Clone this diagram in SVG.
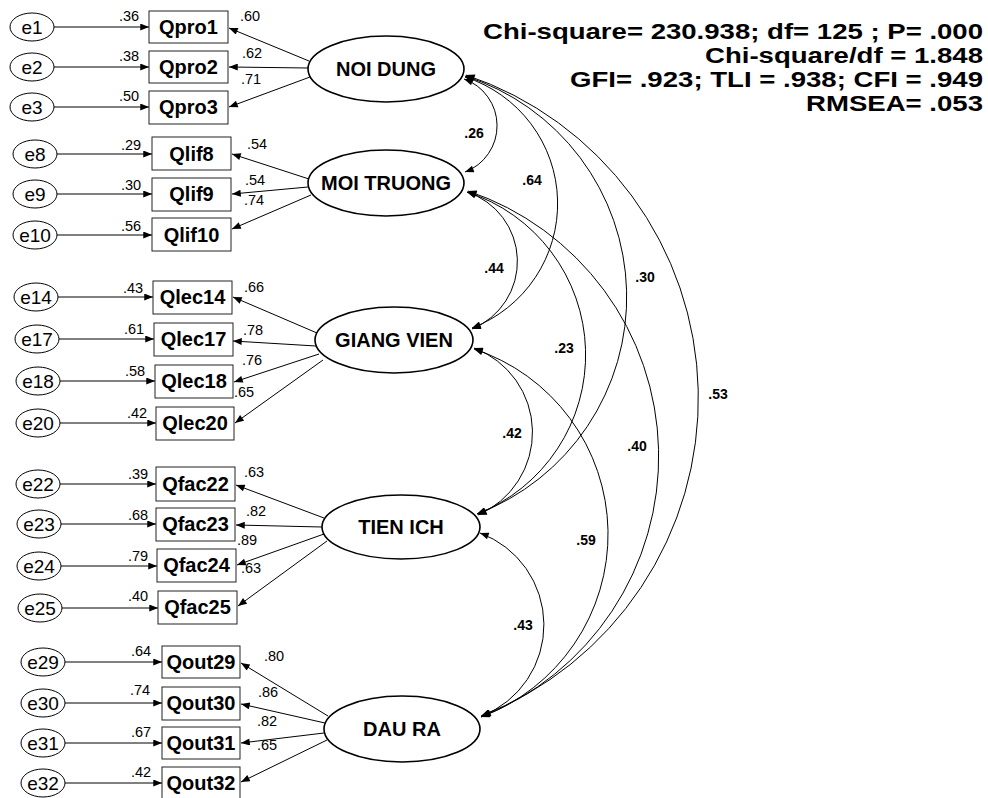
<svg xmlns="http://www.w3.org/2000/svg" width="988" height="798" viewBox="0 0 988 798">
<defs>
<marker id="ah" viewBox="0 0 10 8" refX="10" refY="4" markerWidth="10" markerHeight="7" markerUnits="userSpaceOnUse" orient="auto-start-reverse"><path d="M0,0 L10,4 L0,8 z" fill="#000"/></marker>
<style>
text{font-family:"Liberation Sans",Arial,sans-serif;fill:#000}
.lat{font-size:20px;font-weight:bold;text-anchor:middle}
.box{font-size:20px;font-weight:bold;text-anchor:middle}
.err{font-size:19px;text-anchor:middle}
.ld{font-size:14.5px;text-anchor:middle}
.cv{font-size:14px;font-weight:bold;text-anchor:middle}
.stat{font-size:22px;font-weight:bold}
.eo{fill:#fff;stroke:#000;stroke-width:1}
.lo{fill:#fff;stroke:#000;stroke-width:1.6}
.rb{fill:#fff;stroke:#222;stroke-width:1}
.c line,.c path{stroke:#000;stroke-width:1;fill:none;marker-end:url(#ah)}
.c path{marker-start:url(#ah)}
</style>
</defs>
<rect width="988" height="798" fill="#fff"/>

<g class="c" id="connectors">
<!-- error arrows -->
<line x1="54" y1="27" x2="149" y2="27"/>
<line x1="54" y1="67" x2="149" y2="67"/>
<line x1="54" y1="107" x2="149" y2="107"/>
<line x1="57" y1="154" x2="152" y2="154"/>
<line x1="57" y1="194" x2="152" y2="194"/>
<line x1="57" y1="235" x2="152" y2="235"/>
<line x1="58" y1="297" x2="153" y2="297"/>
<line x1="59" y1="339" x2="154" y2="339"/>
<line x1="60" y1="381" x2="155" y2="381"/>
<line x1="60" y1="423" x2="156" y2="423"/>
<line x1="60" y1="484" x2="156" y2="484"/>
<line x1="61" y1="524" x2="156" y2="524"/>
<line x1="61" y1="566" x2="157" y2="566"/>
<line x1="62" y1="608" x2="158" y2="608"/>
<line x1="65" y1="662" x2="162" y2="662"/>
<line x1="65" y1="703" x2="162" y2="703"/>
<line x1="65" y1="743" x2="162" y2="743"/>
<line x1="65" y1="783" x2="162" y2="783"/>
<!-- loadings -->
<line x1="309" y1="61" x2="229" y2="28"/>
<line x1="308" y1="68" x2="229" y2="67"/>
<line x1="310" y1="77" x2="229" y2="107"/>
<line x1="309" y1="179" x2="232" y2="154"/>
<line x1="308" y1="187" x2="232" y2="194"/>
<line x1="311" y1="195" x2="232" y2="229"/>
<line x1="317" y1="333" x2="233" y2="297"/>
<line x1="316" y1="346" x2="233" y2="341"/>
<line x1="319" y1="354" x2="234" y2="382"/>
<line x1="323" y1="360" x2="235" y2="423"/>
<line x1="324" y1="518" x2="236" y2="485"/>
<line x1="322" y1="527" x2="236" y2="525"/>
<line x1="324" y1="534" x2="237" y2="565"/>
<line x1="327" y1="541" x2="238" y2="606"/>
<line x1="328" y1="716" x2="241" y2="663"/>
<line x1="325" y1="723" x2="241" y2="704"/>
<line x1="324" y1="733" x2="241" y2="743"/>
<line x1="327" y1="740" x2="241" y2="782"/>
<!-- covariances -->
<path d="M464,79 A49.5,49.5 0 0 1 465,172"/>
<path d="M465,77 A133,133 0 0 1 472,328"/>
<path d="M465,76 A232,232 0 0 1 477,514"/>
<path d="M466,75 A341,341 0 0 1 481,716"/>
<path d="M467,192 A73,73 0 0 1 472,329"/>
<path d="M467,192 A171,171 0 0 1 477,514"/>
<path d="M468,191 A280,280 0 0 1 481,717"/>
<path d="M474,348 A90,90 0 0 1 478,515"/>
<path d="M474,349 A195,195 0 0 1 481,717"/>
<path d="M480,533 A98,98 0 0 1 482,716"/>
</g>

<g id="labels">
<text class="ld" x="129" y="21">.36</text>
<text class="ld" x="250" y="21">.60</text>
<text class="ld" x="129" y="61">.38</text>
<text class="ld" x="252" y="58">.62</text>
<text class="ld" x="251" y="84">.71</text>
<text class="ld" x="129" y="101">.50</text>
<text class="ld" x="131" y="150">.29</text>
<text class="ld" x="257" y="149">.54</text>
<text class="ld" x="131" y="190">.30</text>
<text class="ld" x="255" y="185">.54</text>
<text class="ld" x="254" y="205">.74</text>
<text class="ld" x="131" y="231">.56</text>
<text class="ld" x="133" y="293">.43</text>
<text class="ld" x="254" y="292">.66</text>
<text class="ld" x="134" y="334">.61</text>
<text class="ld" x="253" y="335">.78</text>
<text class="ld" x="135" y="376">.58</text>
<text class="ld" x="252" y="365">.76</text>
<text class="ld" x="244" y="397">.65</text>
<text class="ld" x="137" y="418">.42</text>
<text class="ld" x="138" y="479">.39</text>
<text class="ld" x="254" y="477">.63</text>
<text class="ld" x="138" y="520">.68</text>
<text class="ld" x="256" y="516">.82</text>
<text class="ld" x="138" y="561">.79</text>
<text class="ld" x="247" y="545">.89</text>
<text class="ld" x="251" y="573">.63</text>
<text class="ld" x="138" y="601">.40</text>
<text class="ld" x="141" y="656">.64</text>
<text class="ld" x="274" y="661">.80</text>
<text class="ld" x="140" y="695">.74</text>
<text class="ld" x="268" y="697">.86</text>
<text class="ld" x="141" y="737">.67</text>
<text class="ld" x="267" y="726">.82</text>
<text class="ld" x="141" y="777">.42</text>
<text class="ld" x="267" y="750">.65</text>
<text class="cv" x="474" y="138">.26</text>
<text class="cv" x="532" y="185">.64</text>
<text class="cv" x="494" y="273">.44</text>
<text class="cv" x="645" y="282">.30</text>
<text class="cv" x="564" y="353">.23</text>
<text class="cv" x="718" y="399">.53</text>
<text class="cv" x="512" y="438">.42</text>
<text class="cv" x="637" y="451">.40</text>
<text class="cv" x="586" y="545">.59</text>
<text class="cv" x="523" y="630">.43</text>
</g>

<g id="fit">
<text class="stat" x="483" y="39" textLength="500" lengthAdjust="spacingAndGlyphs">Chi-square= 230.938; df= 125 ; P= .000</text>
<text class="stat" x="705" y="63" textLength="278" lengthAdjust="spacingAndGlyphs">Chi-square/df = 1.848</text>
<text class="stat" x="570" y="87" textLength="413" lengthAdjust="spacingAndGlyphs">GFI= .923; TLI = .938; CFI = .949</text>
<text class="stat" x="806" y="111" textLength="177" lengthAdjust="spacingAndGlyphs">RMSEA= .053</text>
</g>

<g id="NOI_DUNG"><ellipse class="lo" cx="386" cy="69" rx="78" ry="33"/><text class="lat" x="386" y="76">NOI DUNG</text></g>
<g id="MOI_TRUONG"><ellipse class="lo" cx="386" cy="183" rx="78" ry="33"/><text class="lat" x="386" y="190">MOI TRUONG</text></g>
<g id="GIANG_VIEN"><ellipse class="lo" cx="394" cy="340" rx="79" ry="33"/><text class="lat" x="394" y="347">GIANG VIEN</text></g>
<g id="TIEN_ICH"><ellipse class="lo" cx="401" cy="527" rx="79" ry="32"/><text class="lat" x="401" y="534">TIEN ICH</text></g>
<g id="DAU_RA"><ellipse class="lo" cx="402" cy="729" rx="78" ry="33"/><text class="lat" x="402" y="736">DAU RA</text></g>

<g id="Qpro1"><rect class="rb" x="149" y="11" width="79" height="32"/><text class="box" x="188.5" y="34">Qpro1</text></g>
<g id="Qpro2"><rect class="rb" x="149" y="51" width="79" height="32"/><text class="box" x="188.5" y="74">Qpro2</text></g>
<g id="Qpro3"><rect class="rb" x="149" y="91" width="79" height="33"/><text class="box" x="188.5" y="114">Qpro3</text></g>
<g id="Qlif8"><rect class="rb" x="152" y="137" width="79" height="33"/><text class="box" x="191.5" y="161">Qlif8</text></g>
<g id="Qlif9"><rect class="rb" x="152" y="178" width="79" height="33"/><text class="box" x="191.5" y="201">Qlif9</text></g>
<g id="Qlif10"><rect class="rb" x="152" y="218" width="79" height="33"/><text class="box" x="191.5" y="242">Qlif10</text></g>
<g id="Qlec14"><rect class="rb" x="153" y="281" width="79" height="33"/><text class="box" x="192.5" y="304">Qlec14</text></g>
<g id="Qlec17"><rect class="rb" x="154" y="323" width="79" height="33"/><text class="box" x="193.5" y="346">Qlec17</text></g>
<g id="Qlec18"><rect class="rb" x="155" y="365" width="78" height="33"/><text class="box" x="194" y="388">Qlec18</text></g>
<g id="Qlec20"><rect class="rb" x="156" y="407" width="78" height="33"/><text class="box" x="195" y="430">Qlec20</text></g>
<g id="Qfac22"><rect class="rb" x="156" y="467" width="79" height="34"/><text class="box" x="195.5" y="491">Qfac22</text></g>
<g id="Qfac23"><rect class="rb" x="156" y="508" width="79" height="33"/><text class="box" x="195.5" y="531">Qfac23</text></g>
<g id="Qfac24"><rect class="rb" x="157" y="549" width="79" height="33"/><text class="box" x="196.5" y="572">Qfac24</text></g>
<g id="Qfac25"><rect class="rb" x="158" y="591" width="79" height="33"/><text class="box" x="197.5" y="614">Qfac25</text></g>
<g id="Qout29"><rect class="rb" x="162" y="646" width="78" height="32"/><text class="box" x="201" y="669">Qout29</text></g>
<g id="Qout30"><rect class="rb" x="162" y="687" width="78" height="33"/><text class="box" x="201" y="710">Qout30</text></g>
<g id="Qout31"><rect class="rb" x="162" y="727" width="78" height="32"/><text class="box" x="201" y="750">Qout31</text></g>
<g id="Qout32"><rect class="rb" x="162" y="767" width="78" height="33"/><text class="box" x="201" y="790">Qout32</text></g>

<g id="e1"><ellipse class="eo" cx="32" cy="27" rx="22" ry="14"/><text class="err" x="32" y="34">e1</text></g>
<g id="e2"><ellipse class="eo" cx="32" cy="67" rx="22" ry="14"/><text class="err" x="32" y="74">e2</text></g>
<g id="e3"><ellipse class="eo" cx="32" cy="107" rx="22" ry="14"/><text class="err" x="32" y="114">e3</text></g>
<g id="e8"><ellipse class="eo" cx="35" cy="154" rx="22" ry="14"/><text class="err" x="35" y="161">e8</text></g>
<g id="e9"><ellipse class="eo" cx="35" cy="194" rx="22" ry="14"/><text class="err" x="35" y="201">e9</text></g>
<g id="e10"><ellipse class="eo" cx="35" cy="235" rx="22" ry="14"/><text class="err" x="35" y="242">e10</text></g>
<g id="e14"><ellipse class="eo" cx="36" cy="297" rx="22" ry="14"/><text class="err" x="36" y="304">e14</text></g>
<g id="e17"><ellipse class="eo" cx="37" cy="339" rx="22" ry="14"/><text class="err" x="37" y="346">e17</text></g>
<g id="e18"><ellipse class="eo" cx="38" cy="381" rx="22" ry="14"/><text class="err" x="38" y="388">e18</text></g>
<g id="e20"><ellipse class="eo" cx="38" cy="423" rx="22" ry="14"/><text class="err" x="38" y="430">e20</text></g>
<g id="e22"><ellipse class="eo" cx="38" cy="484" rx="22" ry="14"/><text class="err" x="38" y="491">e22</text></g>
<g id="e23"><ellipse class="eo" cx="39" cy="524" rx="22" ry="14"/><text class="err" x="39" y="531">e23</text></g>
<g id="e24"><ellipse class="eo" cx="39" cy="566" rx="22" ry="14"/><text class="err" x="39" y="573">e24</text></g>
<g id="e25"><ellipse class="eo" cx="40" cy="608" rx="22" ry="14"/><text class="err" x="40" y="615">e25</text></g>
<g id="e29"><ellipse class="eo" cx="43" cy="662" rx="22" ry="14"/><text class="err" x="43" y="669">e29</text></g>
<g id="e30"><ellipse class="eo" cx="43" cy="703" rx="22" ry="14"/><text class="err" x="43" y="710">e30</text></g>
<g id="e31"><ellipse class="eo" cx="43" cy="743" rx="22" ry="14"/><text class="err" x="43" y="750">e31</text></g>
<g id="e32"><ellipse class="eo" cx="43" cy="783" rx="22" ry="14"/><text class="err" x="43" y="790">e32</text></g>
</svg>
